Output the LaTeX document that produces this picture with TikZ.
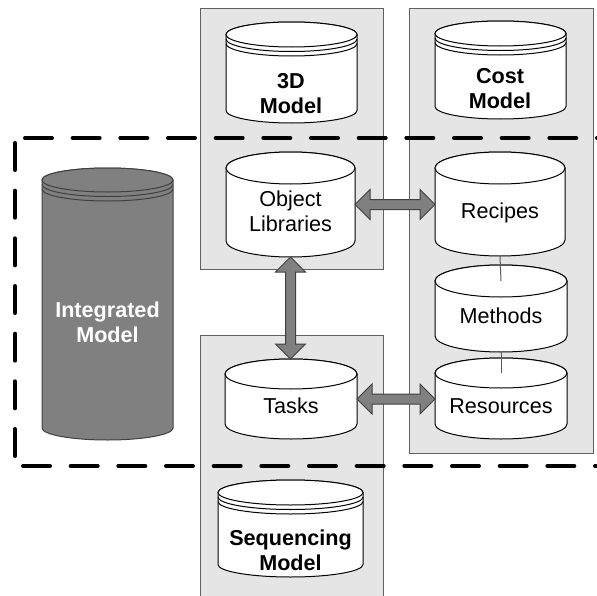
\documentclass[tikz,border=0pt]{standalone}
\usepackage{fontspec}
\setmainfont{Liberation Sans}
\usetikzlibrary{calc}

% one unit = one pixel, y grows downwards
\tikzset{
  panel/.style={draw=black!62, fill=black!10, line width=0.75pt},
  dashbox/.style={draw=black, line width=3pt, line cap=round, dash pattern=on 20.25pt off 15.5pt},
  cylbox/.style={shape=rectangle, inner sep=0pt, outer sep=0pt},
  dbwhite/.style={draw=black, fill=white, line width=0.75pt},
  dbdark/.style={draw=black!75, fill=black!50, line width=0.75pt},
  lbl/.style={inner sep=0pt, align=center, font=\fontsize{16.2}{18.8}\selectfont},
  lblb/.style={lbl, font=\fontsize{16.2}{18.8}\selectfont\bfseries},
  blockarrow/.style={draw=black!75, fill=black!50, line width=0.75pt, line join=miter},
  link/.style={draw=black!65, line width=0.75pt}
}

% database cylinder: name, cx, top, bottom, rx, ry, style
\newcommand\dbcyl[7]{%
  \node[cylbox, minimum width={1.5pt*#5}, minimum height={0.75pt*(#4-#3)}] (#1) at (#2,{(#3+#4)/2}) {};
  \coordinate (#1-top) at (#2,#3+#6);
  \draw[#7] (#2-#5,#3+#6) -- (#2-#5,#4-#6)
     arc[start angle=180, end angle=0, x radius=#5, y radius=#6]
     -- (#2+#5,#3+#6)
     arc[start angle=0, end angle=-180, x radius=#5, y radius=#6] -- cycle;
  \draw[#7] (#2,#3+#6) ellipse[x radius=#5, y radius=#6];
}
% stacked rings under the lid: cx, lid centre y, rx, ry, colour
\newcommand\dbrings[5]{%
  \draw[draw=#5, line width=0.75pt] (#1-#3,#2+4.5) arc[start angle=180, end angle=0, x radius=#3, y radius=#4];
  \draw[draw=#5, line width=0.75pt] (#1-#3,#2+9) arc[start angle=180, end angle=0, x radius=#3, y radius=#4];
}
% horizontal double block arrow between two nodes
\newcommand\hblock[2]{%
  \draw[blockarrow] let \p1=(#1.east), \p2=(#2.west) in
    (\x1,\y1) -- (\x1+11.25pt,\y1+11.25pt) -- (\x1+11.25pt,\y1+3.75pt)
    -- (\x2-11.25pt,\y1+3.75pt) -- (\x2-11.25pt,\y1+11.25pt) -- (\x2,\y1)
    -- (\x2-11.25pt,\y1-11.25pt) -- (\x2-11.25pt,\y1-3.75pt)
    -- (\x1+11.25pt,\y1-3.75pt) -- (\x1+11.25pt,\y1-11.25pt) -- cycle;
}
% vertical double block arrow between two nodes
\newcommand\vblock[2]{%
  \draw[blockarrow] let \p1=(#1.south), \p2=(#2.north) in
    (\x1,\y1) -- (\x1+11.25pt,\y1-11.25pt) -- (\x1+3.75pt,\y1-11.25pt)
    -- (\x1+3.75pt,\y2+11.25pt) -- (\x1+11.25pt,\y2+11.25pt) -- (\x1,\y2)
    -- (\x1-11.25pt,\y2+11.25pt) -- (\x1-3.75pt,\y2+11.25pt)
    -- (\x1-3.75pt,\y1-11.25pt) -- (\x1-11.25pt,\y1-11.25pt) -- cycle;
}

\begin{document}
\begin{tikzpicture}[x=0.75pt, y=-0.75pt]
\useasboundingbox (0,0) rectangle (597,596);
\fill[white] (0,0) rectangle (597,596);
\clip (0,0) rectangle (597,596);

% model panels
\draw[panel] (200,8) rectangle (383,269);
\draw[panel] (409,8) rectangle (593,453);
\draw[panel] (200,335) rectangle (383,605);

% integration boundary
\draw[dashbox] (25,138) -- (610,138);
\draw[dashbox] (15,143) -- (15,462);
\draw[dashbox] (23,466) -- (610,466);

% databases
\dbcyl{m3d}{291.5}{22}{123}{65.5}{12.5}{dbwhite}
\dbrings{291.5}{34.5}{65.5}{12.5}{black}
\dbcyl{cost}{500.5}{21}{119}{65.5}{12.5}{dbwhite}
\dbrings{500.5}{33.5}{65.5}{12.5}{black}
\dbcyl{obj}{290.5}{152}{257}{64.5}{16}{dbwhite}
\dbcyl{rec}{500}{152}{256}{65}{16}{dbwhite}
\dbcyl{meth}{501}{265}{352}{66}{16}{dbwhite}
\dbcyl{res}{501}{358}{439}{66}{15}{dbwhite}
\dbcyl{task}{291}{359}{439}{66}{15}{dbwhite}
\dbcyl{integ}{107.5}{168}{440}{65.5}{12}{dbdark}
\dbrings{107.5}{180}{65.5}{12}{black!75}
\dbcyl{seq}{290.5}{480}{577}{72.5}{12.5}{dbwhite}
\dbrings{290.5}{492.5}{72.5}{12.5}{black}

% labels
\node[lblb] (m3d-t) at (291,94) {3D\\Model};
\node[lblb] (cost-t) at (500,89) {Cost\\Model};
\node[lbl] (obj-t) at (290.5,211) {Object\\Libraries};
\node[lbl] (rec-t) at (500,213) {Recipes};
\node[lbl] (meth-t) at (501,316) {Methods};
\node[lbl] (res-t) at (501,406) {Resources};
\node[lbl] (task-t) at (291,406) {Tasks};
\node[lblb, text=white] (integ-t) at (107.5,322) {Integrated\\Model};
\node[lblb] (seq-t) at (290.5,550) {Sequencing\\Model};

% links inside the cost model
\draw[link] (rec.south) -- (meth-top);
\draw[link] (meth.south) -- (res-top);

% exchanges
\hblock{obj}{rec}
\hblock{task}{res}
\vblock{obj}{task}
\end{tikzpicture}
\end{document}
